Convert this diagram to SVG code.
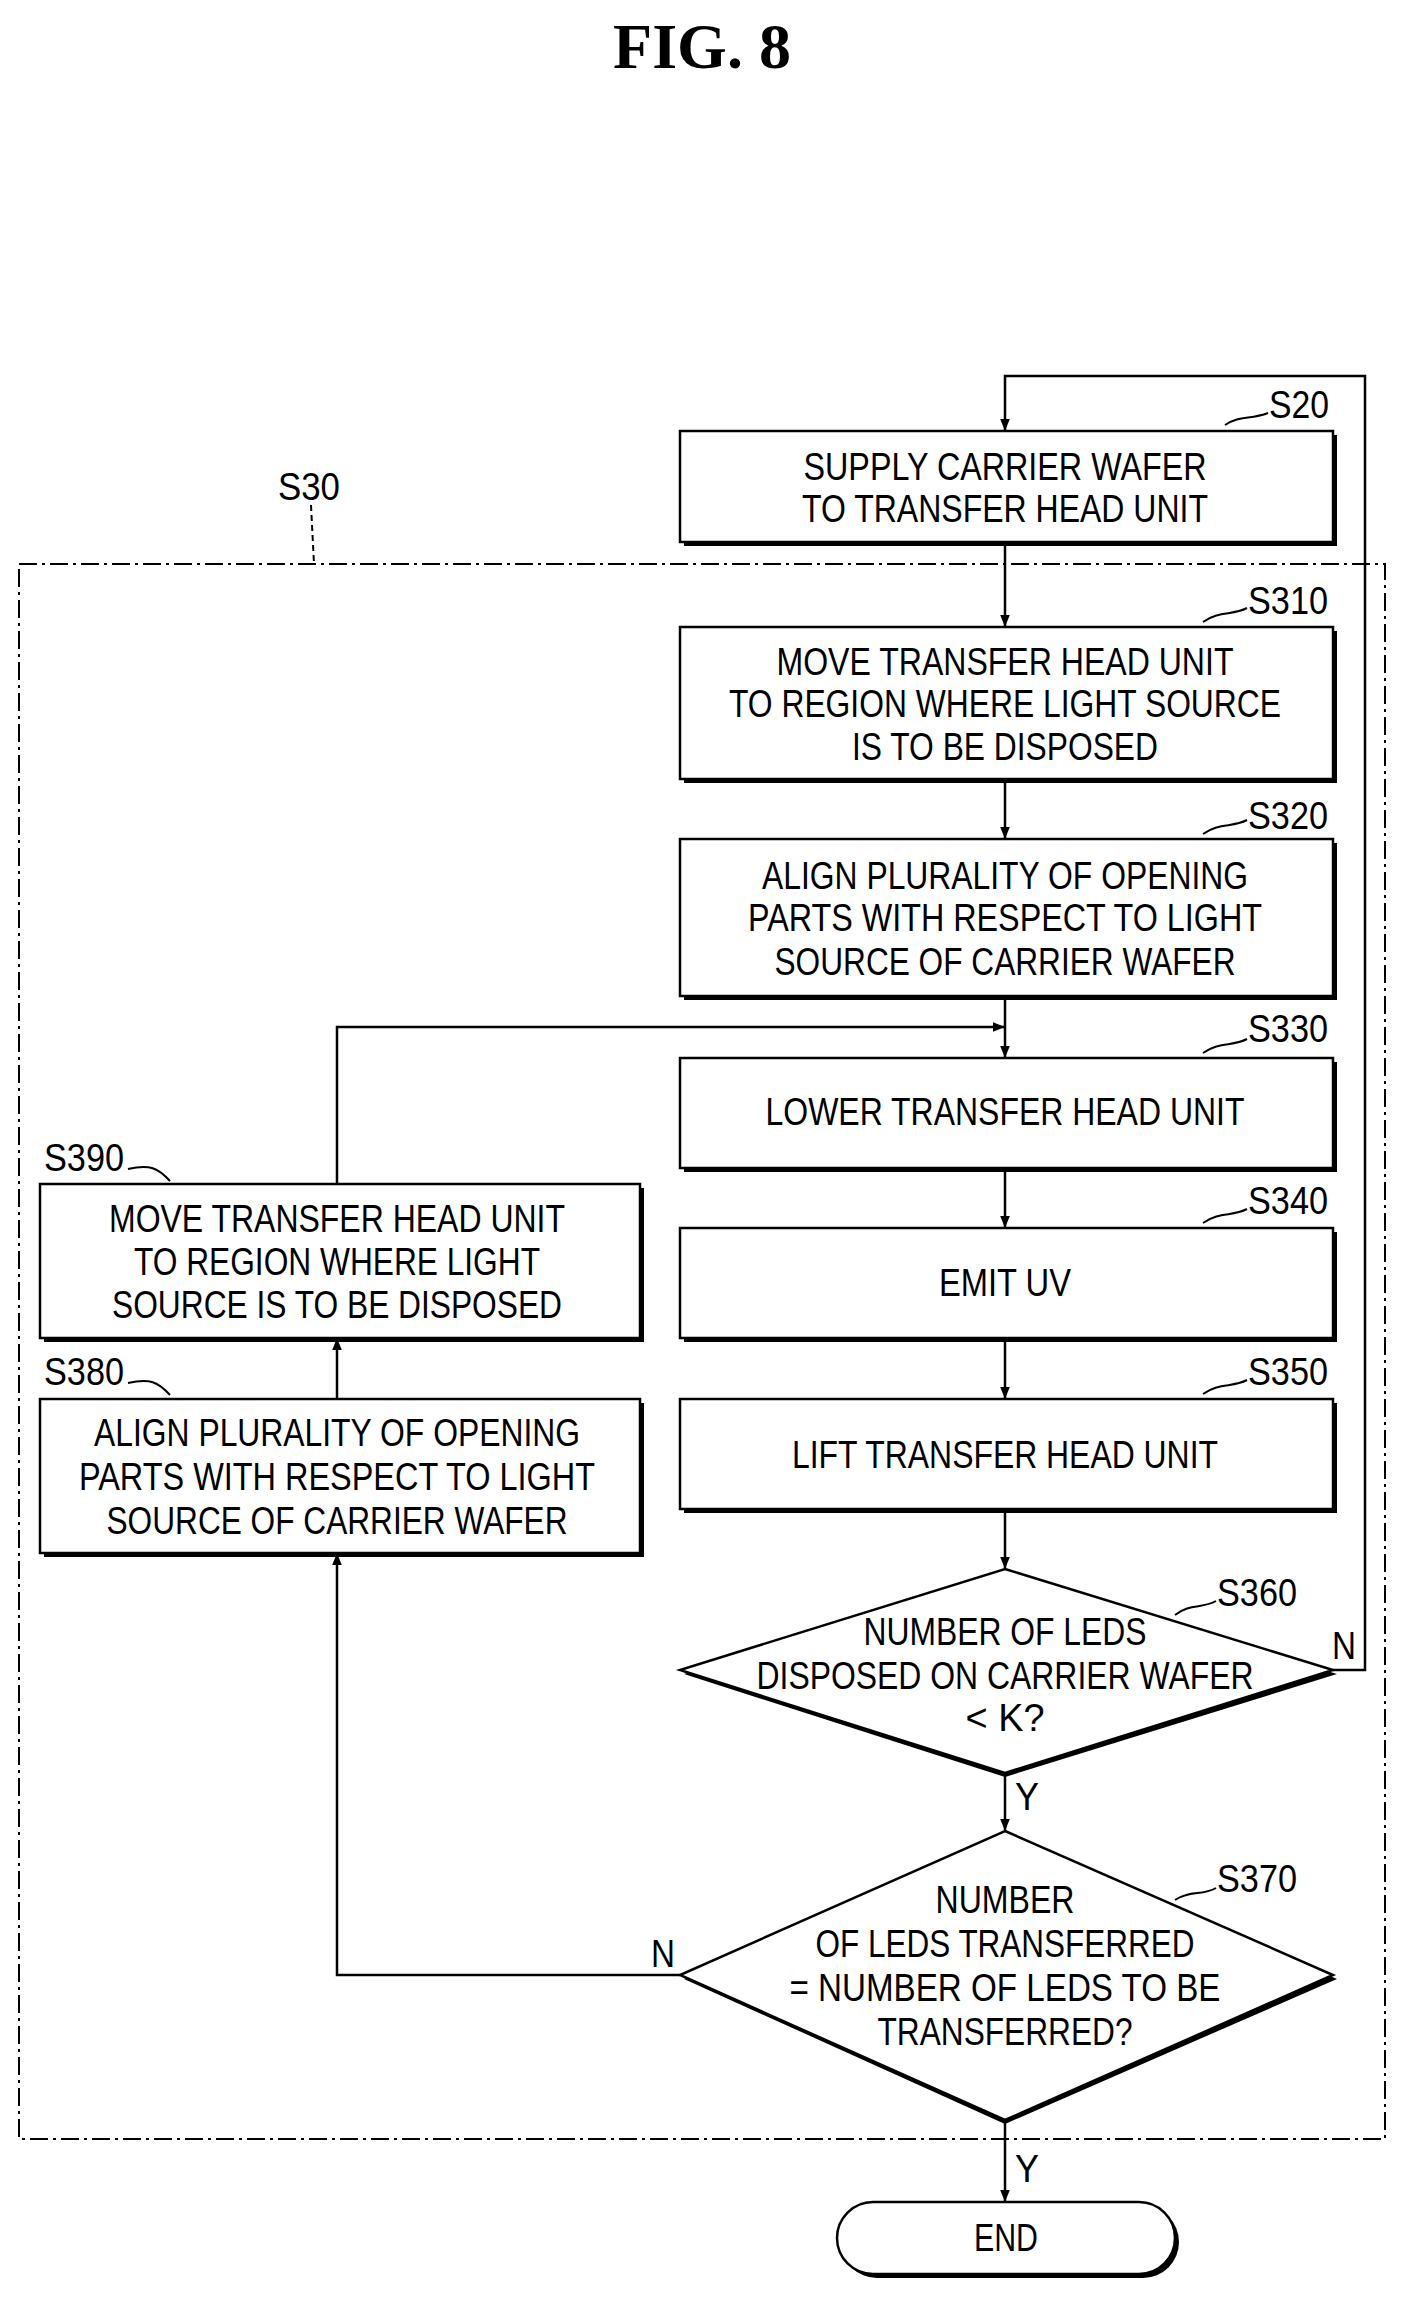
<svg xmlns="http://www.w3.org/2000/svg" width="1407" height="2297" viewBox="0 0 1407 2297">
<defs>
<style>
.t{font-family:"Liberation Sans",Arial,sans-serif;font-size:38px;fill:#000;text-anchor:middle}
.l{font-family:"Liberation Sans",Arial,sans-serif;font-size:38px;fill:#000}
.b{fill:#fff;stroke:#000;stroke-width:2.5}
.s{fill:#000}
.c{fill:none;stroke:#000;stroke-width:2.5}
.ld{fill:none;stroke:#000;stroke-width:2}
</style>
<marker id="ah" viewBox="0 0 10 10" refX="10" refY="5" markerWidth="7" markerHeight="7" markerUnits="userSpaceOnUse" orient="auto"><path d="M0,0L10,5L0,10z" fill="#000"/></marker>
<marker id="a" viewBox="0 0 10 10" refX="10" refY="5" markerWidth="16" markerHeight="12" markerUnits="userSpaceOnUse" orient="auto"><path d="M0,1L10,5L0,9z" fill="#000"/></marker>
</defs>
<rect width="1407" height="2297" fill="#fff"/>
<text x="702" y="68" font-family="Liberation Serif,serif" font-weight="bold" font-size="64" text-anchor="middle">FIG. 8</text>

<g id="s30">
<rect x="19" y="564" width="1366" height="1575" fill="none" stroke="#000" stroke-width="2" stroke-dasharray="18,5,3,5"/>
<path d="M311,505 L314,564" class="ld" stroke-dasharray="6,4"/>
<text class="l" x="278" y="500" textLength="62" lengthAdjust="spacingAndGlyphs">S30</text>
</g>

<g id="connectors">
<path class="c" d="M1005,542 V627" marker-end="url(#a)"/>
<path class="c" d="M1005,779 V839" marker-end="url(#a)"/>
<path class="c" d="M1005,996 V1058" marker-end="url(#a)"/>
<path class="c" d="M1005,1168 V1228" marker-end="url(#a)"/>
<path class="c" d="M1005,1338 V1399" marker-end="url(#a)"/>
<path class="c" d="M1005,1509 V1569" marker-end="url(#a)"/>
<path class="c" d="M1005,1773 V1831" marker-end="url(#a)"/>
<path class="c" d="M1005,2120 V2202" marker-end="url(#a)"/>
<path class="c" d="M1333,1670 H1365 V376 H1005 V431" marker-end="url(#a)"/>
<path class="c" d="M680,1975 H337 V1553" marker-end="url(#a)"/>
<path class="c" d="M337,1399 V1338" marker-end="url(#a)"/>
<path class="c" d="M337,1184 V1027 H1005" marker-end="url(#a)"/>
<text class="l" x="1332" y="1659" textLength="24" lengthAdjust="spacingAndGlyphs">N</text>
<text class="l" x="1015" y="1810" textLength="24" lengthAdjust="spacingAndGlyphs">Y</text>
<text class="l" x="651" y="1967" textLength="24" lengthAdjust="spacingAndGlyphs">N</text>
<text class="l" x="1015" y="2182" textLength="24" lengthAdjust="spacingAndGlyphs">Y</text>
</g>

<g id="S20">
<rect class="s" x="684" y="435" width="653" height="111"/><rect class="b" x="680" y="431" width="653" height="111"/>
<text class="t" x="1005" y="480" textLength="403" lengthAdjust="spacingAndGlyphs">SUPPLY CARRIER WAFER</text>
<text class="t" x="1005" y="522" textLength="406" lengthAdjust="spacingAndGlyphs">TO TRANSFER HEAD UNIT</text>
<path class="ld" d="M1225,425 C1240,415 1250,420 1268,413"/>
<text class="l" x="1269" y="418" textLength="60" lengthAdjust="spacingAndGlyphs">S20</text>
</g>

<g id="S310">
<rect class="s" x="684" y="631" width="653" height="152"/><rect class="b" x="680" y="627" width="653" height="152"/>
<text class="t" x="1005" y="675" textLength="457" lengthAdjust="spacingAndGlyphs">MOVE TRANSFER HEAD UNIT</text>
<text class="t" x="1005" y="717" textLength="552" lengthAdjust="spacingAndGlyphs">TO REGION WHERE LIGHT SOURCE</text>
<text class="t" x="1005" y="760" textLength="306" lengthAdjust="spacingAndGlyphs">IS TO BE DISPOSED</text>
<path class="ld" d="M1203,622 C1220,610 1232,616 1247,608"/>
<text class="l" x="1248" y="614" textLength="80" lengthAdjust="spacingAndGlyphs">S310</text>
</g>

<g id="S320">
<rect class="s" x="684" y="843" width="653" height="157"/><rect class="b" x="680" y="839" width="653" height="157"/>
<text class="t" x="1005" y="889" textLength="486" lengthAdjust="spacingAndGlyphs">ALIGN PLURALITY OF OPENING</text>
<text class="t" x="1005" y="931" textLength="514" lengthAdjust="spacingAndGlyphs">PARTS WITH RESPECT TO LIGHT</text>
<text class="t" x="1005" y="975" textLength="461" lengthAdjust="spacingAndGlyphs">SOURCE OF CARRIER WAFER</text>
<path class="ld" d="M1203,834 C1220,822 1232,828 1247,820"/>
<text class="l" x="1248" y="829" textLength="80" lengthAdjust="spacingAndGlyphs">S320</text>
</g>

<g id="S330">
<rect class="s" x="684" y="1062" width="653" height="110"/><rect class="b" x="680" y="1058" width="653" height="110"/>
<text class="t" x="1005" y="1125" textLength="479" lengthAdjust="spacingAndGlyphs">LOWER TRANSFER HEAD UNIT</text>
<path class="ld" d="M1203,1053 C1220,1041 1232,1047 1247,1039"/>
<text class="l" x="1248" y="1042" textLength="80" lengthAdjust="spacingAndGlyphs">S330</text>
</g>

<g id="S340">
<rect class="s" x="684" y="1232" width="653" height="110"/><rect class="b" x="680" y="1228" width="653" height="110"/>
<text class="t" x="1005" y="1296" textLength="132" lengthAdjust="spacingAndGlyphs">EMIT UV</text>
<path class="ld" d="M1203,1223 C1220,1211 1232,1217 1247,1209"/>
<text class="l" x="1248" y="1214" textLength="80" lengthAdjust="spacingAndGlyphs">S340</text>
</g>

<g id="S350">
<rect class="s" x="684" y="1403" width="653" height="110"/><rect class="b" x="680" y="1399" width="653" height="110"/>
<text class="t" x="1005" y="1468" textLength="426" lengthAdjust="spacingAndGlyphs">LIFT TRANSFER HEAD UNIT</text>
<path class="ld" d="M1203,1394 C1220,1382 1232,1388 1247,1380"/>
<text class="l" x="1248" y="1385" textLength="80" lengthAdjust="spacingAndGlyphs">S350</text>
</g>

<g id="S360">
<polygon class="s" points="1005,1573 1337,1674 1005,1777 684,1674"/>
<polygon class="b" points="1005,1569 1333,1670 1005,1773 680,1670"/>
<text class="t" x="1005" y="1645" textLength="283" lengthAdjust="spacingAndGlyphs">NUMBER OF LEDS</text>
<text class="t" x="1005" y="1689" textLength="497" lengthAdjust="spacingAndGlyphs">DISPOSED ON CARRIER WAFER</text>
<text class="t" x="1005" y="1731" textLength="79" lengthAdjust="spacingAndGlyphs">&lt; K?</text>
<path class="ld" d="M1175,1615 C1190,1603 1202,1609 1216,1601"/>
<text class="l" x="1217" y="1606" textLength="80" lengthAdjust="spacingAndGlyphs">S360</text>
</g>

<g id="S370">
<polygon class="s" points="1005,1835 1337,1979 1005,2124 684,1979"/>
<polygon class="b" points="1005,1831 1333,1975 1005,2120 680,1975"/>
<text class="t" x="1005" y="1913" textLength="139" lengthAdjust="spacingAndGlyphs">NUMBER</text>
<text class="t" x="1005" y="1957" textLength="379" lengthAdjust="spacingAndGlyphs">OF LEDS TRANSFERRED</text>
<text class="t" x="1005" y="2001" textLength="431" lengthAdjust="spacingAndGlyphs">= NUMBER OF LEDS TO BE</text>
<text class="t" x="1005" y="2045" textLength="255" lengthAdjust="spacingAndGlyphs">TRANSFERRED?</text>
<path class="ld" d="M1175,1900 C1190,1890 1202,1896 1216,1888"/>
<text class="l" x="1217" y="1892" textLength="80" lengthAdjust="spacingAndGlyphs">S370</text>
</g>

<g id="S390">
<rect class="s" x="44" y="1188" width="600" height="154"/><rect class="b" x="40" y="1184" width="600" height="154"/>
<text class="t" x="337" y="1232" textLength="456" lengthAdjust="spacingAndGlyphs">MOVE TRANSFER HEAD UNIT</text>
<text class="t" x="337" y="1275" textLength="406" lengthAdjust="spacingAndGlyphs">TO REGION WHERE LIGHT</text>
<text class="t" x="337" y="1318" textLength="450" lengthAdjust="spacingAndGlyphs">SOURCE IS TO BE DISPOSED</text>
<path class="ld" d="M128,1169 C150,1164 158,1168 170,1181"/>
<text class="l" x="44" y="1171" textLength="80" lengthAdjust="spacingAndGlyphs">S390</text>
</g>

<g id="S380">
<rect class="s" x="44" y="1403" width="600" height="154"/><rect class="b" x="40" y="1399" width="600" height="154"/>
<text class="t" x="337" y="1446" textLength="486" lengthAdjust="spacingAndGlyphs">ALIGN PLURALITY OF OPENING</text>
<text class="t" x="337" y="1490" textLength="516" lengthAdjust="spacingAndGlyphs">PARTS WITH RESPECT TO LIGHT</text>
<text class="t" x="337" y="1534" textLength="461" lengthAdjust="spacingAndGlyphs">SOURCE OF CARRIER WAFER</text>
<path class="ld" d="M128,1383 C150,1378 158,1382 170,1395"/>
<text class="l" x="44" y="1385" textLength="80" lengthAdjust="spacingAndGlyphs">S380</text>
</g>

<g id="END">
<rect class="s" x="841" y="2206" width="338" height="72" rx="36"/>
<rect class="b" x="837" y="2202" width="338" height="72" rx="36"/>
<text class="t" x="1006" y="2251" textLength="64" lengthAdjust="spacingAndGlyphs">END</text>
</g>
</svg>
